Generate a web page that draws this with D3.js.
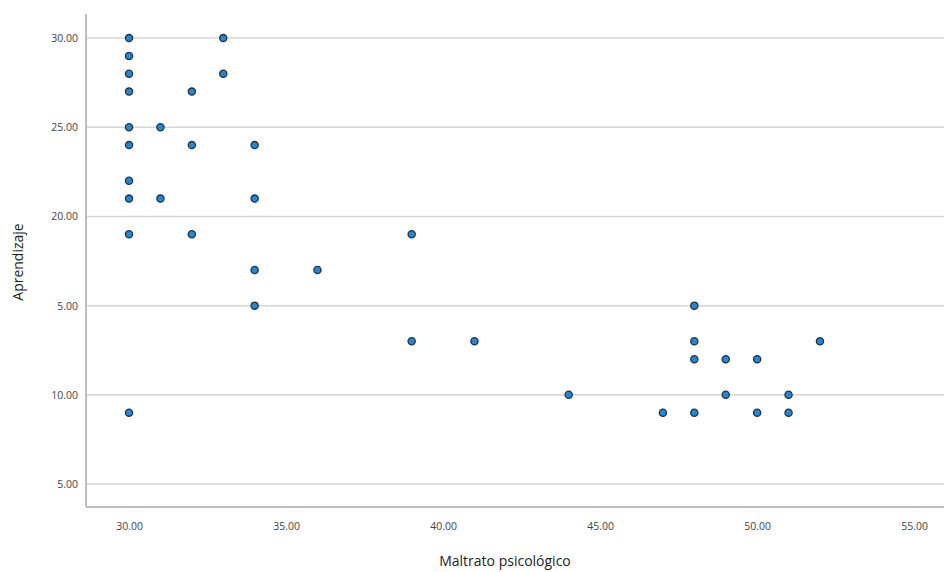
<!DOCTYPE html>
<html>
<head>
<meta charset="utf-8">
<script src="https://cdn.jsdelivr.net/npm/d3@7"></script>
<style>
	body { margin: 0; background: #fff; }
	text { font-family: "Open Sans", sans-serif; }
</style>
</head>
<body>
<div id="chart"></div>
<script>
// Maltrato psicologico (x) vs Aprendizaje (y)
var maltrato = [30,30,30,30,30,30,30,30,30,30, 31,31, 32,32,32, 33,33, 34,34,34,34, 36, 39,39, 41, 44, 47, 48,48,48,48, 49,49, 50,50, 51,51, 52];
var aprendizaje = [30,29,28,27,25,24,22,21,19,9, 25,21, 27,24,19, 30,28, 24,21,17,15, 17, 19,13, 13, 10, 9, 15,13,12,9, 12,10, 12,9, 10,9, 13];
var xTicks = [30, 35, 40, 45, 50, 55];
var yTicks = [5, 10, 15, 20, 25, 30];
var yTickLabels = ["5.00", "10.00", "5.00", "20.00", "25.00", "30.00"];

var width = 946,
	height = 572,
	plotLeft = 86,
	plotRight = 944,
	plotTop = 14,
	plotBottom = 507;

var x = d3.scaleLinear().domain([28.63, 55.95]).range([plotLeft, plotRight]);
var y = d3.scaleLinear().domain([3.71, 31.35]).range([plotBottom, plotTop]);

var svg = d3.select("#chart").append("svg")
	.attr("width", width)
	.attr("height", height);

// horizontal grid lines
svg.append("g")
	.selectAll("line")
	.data(yTicks)
	.enter().append("line")
	.attr("x1", plotLeft)
	.attr("x2", plotRight)
	.attr("y1", d => y(d))
	.attr("y2", d => y(d))
	.attr("stroke", "#d6d6d6")
	.attr("stroke-width", 1.5);

// axis lines
svg.append("line")
	.attr("x1", plotLeft).attr("x2", plotLeft)
	.attr("y1", plotTop).attr("y2", plotBottom)
	.attr("stroke", "#bdbdbd").attr("stroke-width", 2);
svg.append("line")
	.attr("x1", plotLeft).attr("x2", plotRight)
	.attr("y1", plotBottom).attr("y2", plotBottom)
	.attr("stroke", "#bdbdbd").attr("stroke-width", 2);

// y tick labels
var yAxis = d3.axisLeft(y)
	.tickValues(yTicks)
	.tickSize(0)
	.tickPadding(8)
	.tickFormat((d, i) => yTickLabels[i]);
var gy = svg.append("g")
	.attr("transform", "translate(" + plotLeft + ",0)")
	.call(yAxis);
gy.select(".domain").remove();
gy.selectAll("text")
	.attr("fill", "#444")
	.style("font-size", "10.5px");

// x tick labels
var xAxis = d3.axisBottom(x)
	.tickValues(xTicks)
	.tickSize(0)
	.tickPadding(16)
	.tickFormat(d3.format(".2f"));
var gx = svg.append("g")
	.attr("transform", "translate(0," + plotBottom + ")")
	.call(xAxis);
gx.select(".domain").remove();
gx.selectAll("text")
	.attr("fill", "#444")
	.style("font-size", "10.5px");

// titles
svg.append("text")
	.attr("x", 505)
	.attr("y", 566)
	.attr("text-anchor", "middle")
	.attr("fill", "#222")
	.style("font-size", "14px")
	.text("Maltrato psicológico");

svg.append("text")
	.attr("transform", "translate(23,262) rotate(-90)")
	.attr("text-anchor", "middle")
	.attr("fill", "#222")
	.style("font-size", "14px")
	.text("Aprendizaje");

// points
svg.append("g")
	.selectAll("circle")
	.data(maltrato)
	.enter().append("circle")
	.attr("cx", d => x(d))
	.attr("cy", (d, i) => y(aprendizaje[i]))
	.attr("r", 3.6)
	.attr("fill", "#1f88dc")
	.attr("stroke", "#263238")
	.attr("stroke-width", 1.3);
</script>
</body>
</html>
